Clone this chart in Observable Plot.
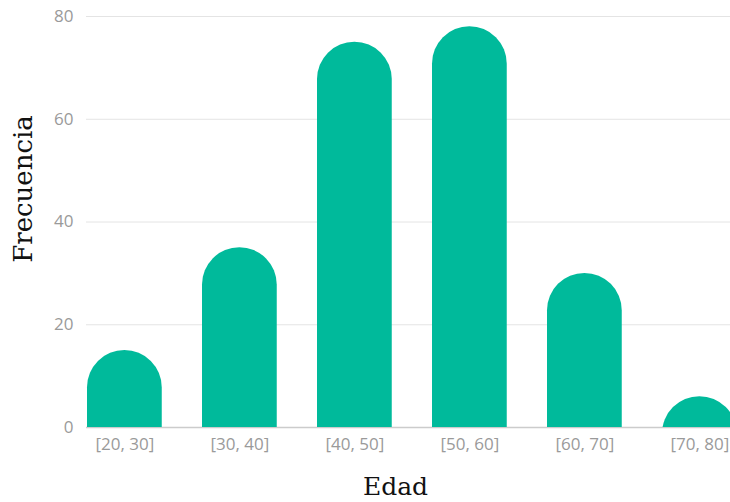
<!DOCTYPE html>
<html><head><meta charset="utf-8">
<script src="https://cdn.jsdelivr.net/npm/d3@7"></script>
<script src="https://cdn.jsdelivr.net/npm/@observablehq/plot@0.6"></script>
<style>body{margin:0;background:#fff;overflow:hidden}</style>
</head><body><div id="chart"></div>
<script>
const categories = ["[20, 30]", "[30, 40]", "[40, 50]", "[50, 60]", "[60, 70]", "[70, 80]"];
const frequencies = [15, 35, 75, 78, 30, 6];
const yTicks = [0, 20, 40, 60, 80];
const xTitle = "Edad";
const yTitle = "Frecuencia";

const data = categories.map((c, i) => ({edad: c, frecuencia: frequencies[i]}));

const W = 730, H = 502, mL = 86, mR = 0, mT = 16, mB = 75;
const pad = 0.35, step = 115;
const firstBar = 87;
const r0 = firstBar - pad * step;
const r1 = r0 + step * (categories.length + pad);
const barColor = "#00ba9b";
const radius = step * (1 - pad) / 2;

const plot = Plot.plot({
  width: W, height: H,
  marginLeft: mL, marginRight: mR, marginTop: mT, marginBottom: mB,
  style: {fontFamily: "'Open Sans', sans-serif", fontSize: "17px", color: "#9a9a9a", background: "#fff"},
  x: {type: "band", domain: categories, range: [r0, r1], padding: pad, round: false, tickSize: 0, tickPadding: 10, label: null},
  y: {domain: [0, 80], ticks: yTicks, tickSize: 0, tickPadding: 13, label: null},
  marks: [
    Plot.ruleY(yTicks.filter(d => d > 0), {stroke: "#e4e4e4", strokeWidth: 1}),
    Plot.ruleY([0], {stroke: "#cccccc", strokeWidth: 1.5}),
    Plot.barY(data, {x: "edad", y1: -20, y2: "frecuencia", fill: barColor, rx: radius, clip: true}),
    Plot.text([xTitle], {frameAnchor: "bottom", dy: 67, dx: -13, fill: "#111", fontFamily: "'DejaVu Serif', serif", fontSize: 25}),
    Plot.text([yTitle], {frameAnchor: "left", textAnchor: "middle", rotate: -90, dx: -63, dy: -33, fill: "#111", fontFamily: "'DejaVu Serif', serif", fontSize: 26})
  ]
});
document.getElementById("chart").appendChild(plot);
</script>
</body></html>
